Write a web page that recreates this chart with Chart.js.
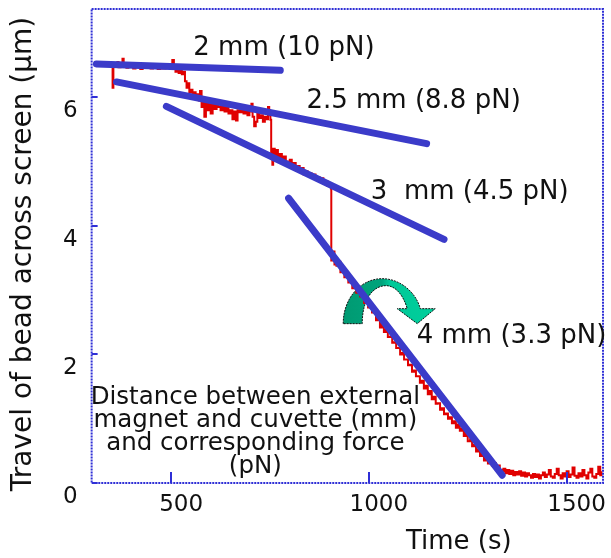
<!DOCTYPE html>
<html><head><meta charset="utf-8">
<script src="https://cdn.jsdelivr.net/npm/chart.js@4/dist/chart.umd.min.js"></script>
<style>html,body{margin:0;padding:0;background:#fff}#wrap{width:611px;height:558px}</style>
</head><body><div id="wrap"><canvas id="c" width="611" height="558"></canvas></div>
<script>
// ---- data ----
const traceTime = [
 350,352,354,359,364,367,372,377,380,387,392,397,404,410,416,422,428,435,441,448,454,460,466,473,479,486,492,498,503,507,511,515,519,523,527,531,535,539,542,
 546,550,554,558,562,566,570,573,577,580,584,588,592,596,600,605,610,615,620,625,630,635,640,645,650,655,660,664,668,673,678,683,688,693,698,703,706,710,714,718,722,727,732,737,741,745,748,751,
 753,756,758,762,766,770,775,780,785,790,795,800,805,810,815,820,825,830,835,840,845,850,855,860,865,870,875,880,885,890,895,900,904,
 905,909,913,918,923,928,933,938,943,948,953,958,963,968,973,978,983,988,993,998,1003,1008,1013,1018,1023,1028,1033,1038,1043,1048,1054,1059,1064,1069,1074,1079,1084,1089,1094,1099,1104,1109,1114,1119,1124,1129,1134,1139,1144,1149,1154,1159,1164,1169,1174,1180,1185,1190,1195,1200,1205,1210,1215,1220,1225,1230,1235,1240,1245,1250,1256,1261,1266,1271,1276,1281,1286,1291,1296,1301,1306,1311,1316,1321,1326,1331,
 1335,1340,1345,1350,1355,1360,1365,1370,1375,1380,1385,1390,1395,1400,1405,1410,1415,1420,1425,1430,1435,1440,1445,1450,1455,1460,1465,1470,1475,1480,1485,1490,1495,1500,1505,1510,1515,1520,1525,1530,1535,1540,1545,1550,1555,1560,1565,1570,1575,1580,1585,1588
];
const traceTravel = [
 6.50,6.15,6.52,6.48,6.55,6.47,6.50,6.60,6.49,6.46,6.52,6.48,6.45,6.50,6.47,6.44,6.49,6.46,6.48,6.45,6.49,6.46,6.44,6.47,6.45,6.48,6.46,6.50,6.58,6.47,6.40,6.44,6.38,6.42,6.36,6.40,6.25,6.15,6.22,
 6.08,6.12,6.02,6.08,5.98,6.05,5.95,6.10,5.85,5.98,5.70,5.92,5.80,5.95,5.75,5.88,5.82,5.90,5.85,5.80,5.88,5.78,5.84,5.75,5.80,5.66,5.78,5.64,5.80,5.77,5.82,5.75,5.80,5.72,5.78,5.90,5.70,5.55,5.62,5.74,5.68,5.72,5.62,5.70,5.66,5.85,5.72,5.65,
 5.15,4.95,5.20,5.10,5.18,5.05,5.12,5.02,5.08,5.00,4.95,5.03,4.92,4.98,4.88,4.93,4.84,4.90,4.80,4.85,4.78,4.82,4.75,4.80,4.72,4.76,4.70,4.74,4.66,4.70,4.62,4.66,4.58,
 3.46,3.60,3.40,3.38,3.44,3.28,3.33,3.20,3.27,3.12,3.17,3.03,3.11,2.96,3.00,2.90,2.95,2.80,2.87,2.73,2.76,2.65,2.68,2.53,2.59,2.42,2.50,2.35,2.38,2.27,2.28,2.18,2.19,2.10,2.10,2.00,2.02,1.92,1.92,1.83,1.84,1.73,1.75,1.66,1.66,1.56,1.59,1.47,1.51,1.38,1.43,1.30,1.34,1.23,1.24,1.14,1.16,1.07,1.08,1.00,1.02,0.93,0.96,0.86,0.91,0.81,0.84,0.73,0.79,0.65,0.68,0.57,0.59,0.49,0.52,0.42,0.46,0.35,0.40,0.30,0.35,0.27,0.31,0.24,0.27,0.20,
 0.18,0.22,0.15,0.20,0.14,0.19,0.12,0.17,0.13,0.18,0.11,0.16,0.10,0.15,0.12,0.08,0.14,0.09,0.13,0.07,0.12,0.16,0.09,0.13,0.20,0.10,0.08,0.14,0.22,0.12,0.07,0.15,0.10,0.18,0.09,0.13,0.24,0.11,0.08,0.15,0.10,0.20,0.12,0.07,0.16,0.22,0.10,0.08,0.14,0.25,0.12,0.18
];
const fit2mmTime = [311, 776];   const fit2mmTravel = [6.52, 6.42];
const fit25mmTime = [362, 1146]; const fit25mmTravel = [6.24, 5.28];
const fit3mmTime = [488, 1190];  const fit3mmTravel = [5.86, 3.79];
const fit4mmTime = [797, 1337];  const fit4mmTravel = [4.43, 0.12];
const fitLabels = ['2 mm (10 pN)', '2.5 mm (8.8 pN)', '3  mm (4.5 pN)', '4 mm (3.3 pN)'];
const noteLines = ['Distance between external', 'magnet and cuvette (mm)', 'and corresponding force', '(pN)'];
const xTickValues = [500, 1000, 1500];
const yTickValues = [0, 2, 4, 6];
const xTitle = 'Time (s)';
const yTitle = 'Travel of bead across screen (\u00b5m)';

// ---- styling / placement (not data) ----
const FONT = 'DejaVu Sans';
const BLUE = '#3b3bc9';
const RED = '#e00000';
const FRAME = '#2f2fd6';
const labelAnchors = [[556, 6.77], [842, 5.94], [1005, 4.53], [1121, 2.29]];
const noteAnchor = [713, 1.334];
const arrowAnchor = [1054, 2.836];

const pts = (xs, ys) => xs.map((x, i) => ({x, y: ys[i]}));
const fitSet = (xs, ys) => ({data: pts(xs, ys), borderColor: BLUE, borderWidth: 7, borderCapStyle: 'round',
  pointRadius: 0, fill: false, order: 0, tension: 0});

const decorPlugin = {
  id: 'decor',
  beforeDatasetsDraw(chart) {
    const {ctx, scales: {x, y}} = chart;
    const ax = x.getPixelForValue(arrowAnchor[0]), ay = y.getPixelForValue(arrowAnchor[1]);
    ctx.save();
    ctx.translate(ax, ay);
    const g = ctx.createLinearGradient(-47, 0, 45, 0);
    g.addColorStop(0, '#009a72'); g.addColorStop(0.42, '#00a47c');
    g.addColorStop(0.5, '#00c898'); g.addColorStop(1, '#00cf9c');
    ctx.beginPath();
    ctx.moveTo(-47, 23);
    ctx.bezierCurveTo(-47, -2, -30, -22, -8, -22);
    ctx.bezierCurveTo(10, -22, 26, -8, 30, 8);
    ctx.lineTo(45, 8);
    ctx.lineTo(27, 23);
    ctx.lineTo(7, 8);
    ctx.lineTo(17, 8);
    ctx.bezierCurveTo(13, -6, 5, -15, -4, -15);
    ctx.bezierCurveTo(-17, -15, -28, -2, -28, 23);
    ctx.closePath();
    ctx.fillStyle = g; ctx.fill();
    ctx.setLineDash([2, 1]); ctx.lineWidth = 1; ctx.strokeStyle = '#111'; ctx.stroke();
    ctx.restore();
  },
  afterDatasetsDraw(chart) {
    const {ctx, chartArea: ca, scales: {x, y}} = chart;
    ctx.save();
    ctx.strokeStyle = FRAME; ctx.lineWidth = 2; ctx.setLineDash([2, 1]);
    ctx.strokeRect(ca.left, ca.top, ca.right - ca.left, ca.bottom - ca.top);
    ctx.setLineDash([]);
    ctx.lineWidth = 2; ctx.strokeStyle = FRAME;
    x.ticks.forEach(t => { const px = Math.round(x.getPixelForValue(t.value));
      ctx.beginPath(); ctx.moveTo(px, ca.bottom); ctx.lineTo(px, ca.bottom - 11); ctx.stroke(); });
    y.ticks.forEach(t => { const py = Math.round(y.getPixelForValue(t.value));
      ctx.beginPath(); ctx.moveTo(ca.left, py); ctx.lineTo(ca.left + 6, py); ctx.stroke(); });
    ctx.fillStyle = '#111';
    ctx.font = '26px "' + FONT + '"';
    ctx.textAlign = 'left'; ctx.textBaseline = 'middle';
    fitLabels.forEach((s, i) => ctx.fillText(s, x.getPixelForValue(labelAnchors[i][0]), y.getPixelForValue(labelAnchors[i][1])));
    ctx.font = '24.5px "' + FONT + '"';
    ctx.textAlign = 'center';
    const nx = x.getPixelForValue(noteAnchor[0]), ny = y.getPixelForValue(noteAnchor[1]);
    noteLines.forEach((s, i) => ctx.fillText(s, nx, ny + i * 23.2));
    ctx.font = '26px "' + FONT + '"';
    ctx.fillText(xTitle, ca.left + 0.718 * (ca.right - ca.left), 542);
    ctx.translate(24, 254);
    ctx.rotate(-Math.PI / 2);
    ctx.font = '28px "' + FONT + '"';
    ctx.fillText(yTitle, 0, 0);
    ctx.restore();
  }
};

new Chart(document.getElementById('c'), {
  type: 'line',
  data: {
    datasets: [
      fitSet(fit2mmTime, fit2mmTravel),
      fitSet(fit25mmTime, fit25mmTravel),
      fitSet(fit3mmTime, fit3mmTravel),
      fitSet(fit4mmTime, fit4mmTravel),
      {data: pts(traceTime, traceTravel), borderColor: RED, borderWidth: 2, pointRadius: 0,
       stepped: true, fill: false, order: 1}
    ]
  },
  options: {
    responsive: false, animation: false, devicePixelRatio: 1,
    layout: {padding: {left: 57, right: 8, top: 9, bottom: 39.5}},
    plugins: {legend: {display: false}, tooltip: {enabled: false}},
    scales: {
      x: {type: 'linear', min: 299, max: 1592,
          grid: {display: false}, border: {display: false},
          afterBuildTicks: s => { s.ticks = xTickValues.map(v => ({value: v})); },
          afterFit: s => { s.paddingLeft = 0; s.paddingRight = 0; },
          ticks: {font: {family: FONT, size: 23}, color: '#111', padding: 0, labelOffset: 10,
                  maxRotation: 0, autoSkip: false, callback: v => String(v)}},
      y: {type: 'linear', min: 0, max: 7.375,
          grid: {display: false}, border: {display: false},
          afterBuildTicks: s => { s.ticks = yTickValues.map(v => ({value: v})); },
          afterFit: s => { s.paddingTop = 0; s.paddingBottom = 0; },
          ticks: {font: {family: FONT, size: 23}, color: '#111', padding: 6, labelOffset: 14,
                  callback: v => String(v)}}
    }
  },
  plugins: [decorPlugin]
});
</script></body></html>
